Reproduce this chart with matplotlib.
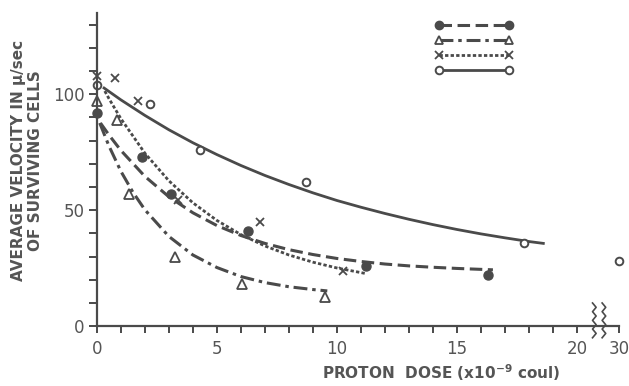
import numpy as np
import matplotlib
matplotlib.use('Agg')
import matplotlib.pyplot as plt
from matplotlib.lines import Line2D

plt.rcParams['font.family'] = ['DejaVu Sans']
plt.rcParams['mathtext.default'] = 'regular'
plt.rcParams['lines.scale_dashes'] = False

ink = '#4a4a4a'
text_ink = '#555555'

# measured points
filled_x = [0, 1.9, 3.1, 6.3, 11.2, 16.3]
filled_y = [92, 73, 57, 41, 26, 22]
tri_x = [0, 0.85, 1.35, 3.25, 6.05, 9.5]
tri_y = [97, 89, 57, 30, 18, 12.5]
cross_x = [0, 0.75, 1.7, 3.4, 6.8, 10.25]
cross_y = [108, 107, 97, 54.5, 45, 24]
open_x = [0, 2.2, 4.3, 8.7, 17.8, 30]
open_y = [104, 96, 76, 62, 36, 28]

# fitted curves
dash_x = [0.15, 0.5, 1, 2, 3, 4, 5, 6, 7, 8, 9, 10, 11, 12, 13, 14, 15, 16.5]
dash_y = [87.6, 82.5, 75.8, 64.6, 55.8, 48.9, 43.4, 39.1, 35.7, 33.0, 30.9, 29.2,
          27.9, 26.8, 26.0, 25.4, 24.9, 24.3]
dashdot_x = [0.12, 0.5, 1, 1.5, 2, 3, 4, 5, 6, 7, 8, 9, 9.6]
dashdot_y = [87.6, 77.8, 66.8, 57.8, 50.2, 38.7, 30.7, 25.3, 21.4, 18.8, 17.0, 15.8, 15.2]
dot_x = [0.33, 0.5, 1, 2, 3, 4, 5, 6, 7, 8, 9, 10, 11.2]
dot_y = [101.4, 98.2, 89.5, 74.6, 62.7, 53.2, 45.6, 39.5, 34.6, 30.7, 27.6, 25.1, 22.7]
solid_x = [0.3, 1, 2, 3, 4, 5, 6, 7, 8, 9, 10, 11, 12, 13, 14, 15, 16, 17, 18, 18.6]
solid_y = [102.7, 97.6, 90.9, 84.7, 79.1, 74.0, 69.3, 65.0, 61.1, 57.5, 54.2, 51.3,
           48.6, 46.1, 43.8, 41.7, 39.8, 38.1, 36.5, 35.7]

x_ticks = [0, 5, 10, 15, 20, 30]
y_ticks = [0, 50, 100]


def brk(x):
    # axis is broken after 21: 30 sits just past the break
    x = np.asarray(x, dtype=float)
    return np.where(x > 25, x - 8.25, x)


dashed = (9, 4)
dashdot = (10, 3.5, 2.5, 3.5)
dotted = (2.4, 1.6)

fig = plt.figure(figsize=(6.29, 3.86), dpi=100)
ax = fig.add_axes([0.154, 0.155, 0.830, 0.811])

ax.plot(dash_x, dash_y, color=ink, lw=2.2, dashes=dashed)
ax.plot(dashdot_x, dashdot_y, color=ink, lw=2.2, dashes=dashdot)
ax.plot(dot_x, dot_y, color=ink, lw=2.0, dashes=dotted)
ax.plot(solid_x, solid_y, color=ink, lw=2.0)

ax.plot(brk(filled_x), filled_y, 'o', color=ink, ms=6.5, clip_on=False)
ax.plot(brk(tri_x), tri_y, '^', mfc='white', mec=ink, mew=1.3, ms=6.5, clip_on=False)
ax.plot(brk(cross_x), cross_y, 'x', color=ink, mew=1.3, ms=5.5, clip_on=False)
ax.plot(brk(open_x), open_y, 'o', mfc='white', mec=ink, mew=1.4, ms=5.5, clip_on=False)

ax.set_xlim(0, 21.75)
ax.set_ylim(0, 135)
ax.set_xticks(brk(x_ticks))
ax.set_xticklabels([str(t) for t in x_ticks])
ax.set_xticks(np.arange(1, 21), minor=True)
ax.set_yticks(y_ticks)
ax.set_yticks(np.arange(10, 135, 10), minor=True)

for side in ['top', 'right']:
    ax.spines[side].set_visible(False)
for side in ['left', 'bottom']:
    ax.spines[side].set_color(ink)
    ax.spines[side].set_linewidth(1.6)
ax.tick_params(which='both', colors=ink, width=1.4, labelcolor=text_ink, labelsize=12)
ax.tick_params(axis='y', which='both', length=6, pad=3)
ax.tick_params(axis='x', which='both', length=5, pad=5)

# axis break zigzags
zz_y = np.linspace(-5, 10, 9)
zz_off = np.array([0, 0.15, 0, 0.15, 0, 0.15, 0, 0.15, 0])
for x0 in [20.65, 21.05]:
    ax.plot(x0 + zz_off, zz_y, color=ink, lw=1.2, clip_on=False)

ax.set_xlabel('PROTON  DOSE (x10$^{-9}$ coul)', fontsize=11, fontweight='bold',
              color=text_ink)
ax.xaxis.set_label_coords(0.659, -0.115)
fig.text(0.043, 0.585, 'AVERAGE VELOCITY IN \u03bc/sec\nOF SURVIVING CELLS', rotation=90,
         ha='center', va='center', fontsize=11, fontweight='bold', color=text_ink,
         multialignment='center', linespacing=1.1)

handles = [
    Line2D([], [], color=ink, lw=2.2, dashes=dashed, marker='o', ms=6),
    Line2D([], [], color=ink, lw=2.2, dashes=dashdot, marker='^', mfc='white', ms=6, mew=1.3),
    Line2D([], [], color=ink, lw=2.0, dashes=dotted, marker='x', ms=5.5, mew=1.3),
    Line2D([], [], color=ink, lw=2.0, marker='o', mfc='white', ms=5.5, mew=1.4),
]
ax.legend(handles, ['', '', '', ''], numpoints=2, frameon=False, loc='upper left',
          bbox_to_anchor=(0.648, 0.982), borderpad=0, borderaxespad=0,
          handlelength=5.6, handletextpad=0, labelspacing=0.08, fontsize=10)

fig.savefig('out.png', dpi=100)
